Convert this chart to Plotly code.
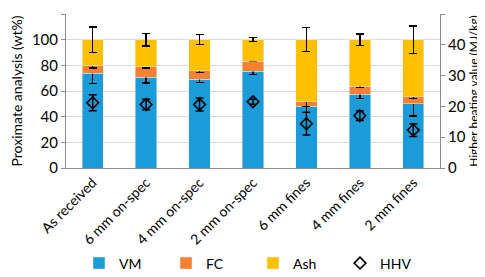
import plotly.graph_objects as go

categories = ["As received", "6 mm on-spec", "4 mm on-spec", "2 mm on-spec",
              "6 mm fines", "4 mm fines", "2 mm fines"]
vm = [74.0, 70.8, 69.0, 75.3, 48.2, 57.5, 49.9]
vm_err = [8.3, 4.4, 2.5, 2.5, 5.0, 3.5, 9.2]
fc = [5.5, 8.0, 6.8, 8.0, 3.3, 6.3, 5.8]
fc_err = [1.5, 1.0, 1.5, 0.5, 3.5, 1.0, 1.5]
ash = [20.5, 21.2, 24.2, 16.7, 48.5, 36.2, 44.3]
ash_err = [10.0, 5.0, 3.9, 1.6, 9.4, 4.4, 10.6]
hhv = [21.2, 20.6, 20.6, 21.5, 14.4, 17.0, 12.3]
hhv_err = [2.6, 1.7, 2.1, 0.8, 3.7, 1.6, 2.1]

FONT = "Lato"
err_style = dict(type="data", color="black", thickness=1.5, width=4)

fig = go.Figure()
fig.add_trace(go.Bar(x=categories, y=vm, name="VM", marker_color="#1B9BD8",
                     error_y=dict(array=vm_err, **err_style)))
fig.add_trace(go.Bar(x=categories, y=fc, name="FC", marker_color="#F8802E",
                     error_y=dict(array=fc_err, **err_style)))
fig.add_trace(go.Bar(x=categories, y=ash, name="Ash", marker_color="#FFC000",
                     error_y=dict(array=ash_err, **err_style)))
fig.add_trace(go.Scatter(x=categories, y=hhv, name="HHV", mode="markers", yaxis="y2",
                         marker=dict(symbol="diamond-open", size=9, color="black",
                                     line=dict(width=1.6, color="black")),
                         error_y=dict(array=hhv_err, **err_style)))

fig.update_layout(
    width=485, height=277,
    margin=dict(l=58, r=53, t=6, b=111),
    barmode="stack", bargap=0.6,
    plot_bgcolor="white", paper_bgcolor="white",
    font=dict(family=FONT, size=14, color="black"),
    showlegend=True,
    legend=dict(orientation="h", x=0.5, xanchor="center", y=-0.62, yanchor="middle",
                font=dict(size=14), itemwidth=30, traceorder="normal",
                entrywidth=42, entrywidthmode="pixels"),
    xaxis=dict(tickangle=-45, showline=True, linecolor="#8C8C8C", linewidth=1,
               ticks="", tickfont=dict(size=14)),
    yaxis=dict(range=[0, 120], dtick=20, showgrid=True, gridcolor="#D9D9D9",
               showline=True, linecolor="#8C8C8C", ticks="outside", ticklen=4,
               tickcolor="#8C8C8C", zeroline=False,
               title=dict(text="Proximate analysis (wt%)", font=dict(size=14), standoff=8),
               tickfont=dict(size=15)),
    yaxis2=dict(range=[0, 50], dtick=10, overlaying="y", side="right", showgrid=False,
                showline=True, linecolor="#8C8C8C", ticks="outside", ticklen=4,
                tickcolor="#8C8C8C", zeroline=False,
                title=dict(text="Higher heating value (MJ/kg)", font=dict(size=12), standoff=3),
                tickfont=dict(size=15)),
)

fig.write_html("out.html")
